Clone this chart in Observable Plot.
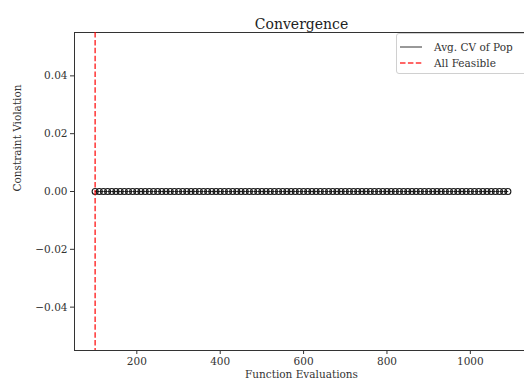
<!DOCTYPE html>
<html>
<head>
<meta charset="utf-8">
<script src="https://cdn.jsdelivr.net/npm/d3@7"></script>
<script src="https://cdn.jsdelivr.net/npm/@observablehq/plot@0.6"></script>
<style>
  html, body { margin: 0; padding: 0; background: #fff; overflow: hidden; width: 524px; height: 385px; }
  #wrap { position: relative; width: 524px; height: 385px; overflow: hidden; }
  #chart svg { max-width: none !important; width: 528px !important; height: 385px !important; }
  #legend { position: absolute; left: 396px; top: 33px; width: 140px; height: 39px; border: 1px solid #d0d0d0; border-radius: 3px; background: rgba(255,255,255,0.8); font-family: "DejaVu Serif", serif; font-size: 10.5px; color: #333; }
  .row { position: absolute; left: 0; height: 14px; display: flex; align-items: center; }
  .row svg { margin-left: 3px; margin-right: 12px; }
</style>
</head>
<body>
<div id="wrap">
  <div id="chart"></div>
  <div id="legend">
    <div class="row" style="top:6px"><svg width="22" height="6"><line x1="0" x2="22" y1="3" y2="3" stroke="#333" stroke-width="1"/></svg><span id="lg1"></span></div>
    <div class="row" style="top:22px"><svg width="22" height="6"><line x1="0" x2="22" y1="3" y2="3" stroke="rgba(255,0,0,0.8)" stroke-width="1.5" stroke-dasharray="5.5,2.4"/></svg><span id="lg2"></span></div>
  </div>
</div>
<script>
const evals = [100,110,120,130,140,150,160,170,180,190,200,210,220,230,240,250,260,270,280,290,300,310,320,330,340,350,360,370,380,390,400,410,420,430,440,450,460,470,480,490,500,510,520,530,540,550,560,570,580,590,600,610,620,630,640,650,660,670,680,690,700,710,720,730,740,750,760,770,780,790,800,810,820,830,840,850,860,870,880,890,900,910,920,930,940,950,960,970,980,990,1000,1010,1020,1030,1040,1050,1060,1070,1080,1090];
const avgCV = [0,0,0,0,0,0,0,0,0,0,0,0,0,0,0,0,0,0,0,0,0,0,0,0,0,0,0,0,0,0,0,0,0,0,0,0,0,0,0,0,0,0,0,0,0,0,0,0,0,0,0,0,0,0,0,0,0,0,0,0,0,0,0,0,0,0,0,0,0,0,0,0,0,0,0,0,0,0,0,0,0,0,0,0,0,0,0,0,0,0,0,0,0,0,0,0,0,0,0,0];
const feasibleAt = [100];
const xTicks = [200, 400, 600, 800, 1000];
const yTicks = [-0.04, -0.02, 0, 0.02, 0.04];
const seriesNames = ["Avg. CV of Pop", "All Feasible"];
const titleText = "Convergence";
const xLabel = "Function Evaluations";
const yLabel = "Constraint Violation";

document.getElementById("lg1").textContent = seriesNames[0];
document.getElementById("lg2").textContent = seriesNames[1];

const data = evals.map((e, i) => ({x: e, y: avgCV[i]}));

const chart = Plot.plot({
  width: 528,
  height: 385,
  marginLeft: 74,
  marginRight: 0,
  marginTop: 32,
  marginBottom: 35,
  style: {fontFamily: "DejaVu Serif, serif", fontSize: "10.5px", color: "#333", background: "white", overflow: "visible", maxWidth: "none"},
  x: {domain: [50.5, 1139.5]},
  y: {domain: [-0.055, 0.055]},
  marks: [
    Plot.frame({stroke: "#333", strokeWidth: 1}),
    Plot.axisX({ticks: xTicks, tickSize: 4, tickPadding: 3, tickFormat: d => String(d), label: null, stroke: "#333"}),
    Plot.axisY({ticks: yTicks, tickSize: 4, tickPadding: 3, tickFormat: d3.format(".2f"), label: null, stroke: "#333"}),
    Plot.line(data, {x: "x", y: "y", stroke: "#222", strokeWidth: 1}),
    Plot.dot(data, {x: "x", y: "y", r: 3, stroke: "#1a1a1a", strokeWidth: 1.1, fill: "none"}),
    Plot.ruleX(feasibleAt, {stroke: "rgba(255,0,0,0.8)", strokeWidth: 1.5, strokeDasharray: "5.5,2.4"}),
    Plot.text([titleText], {frameAnchor: "top", dy: -13, fontSize: 14, fill: "#222"}),
    Plot.text([xLabel], {frameAnchor: "bottom", dy: 27, fontSize: 10.5, fill: "#333"}),
    Plot.text([yLabel], {frameAnchor: "left", dx: -57, rotate: -90, fontSize: 10.5, fill: "#333"})
  ]
});
document.getElementById("chart").appendChild(chart);
</script>
</body>
</html>
